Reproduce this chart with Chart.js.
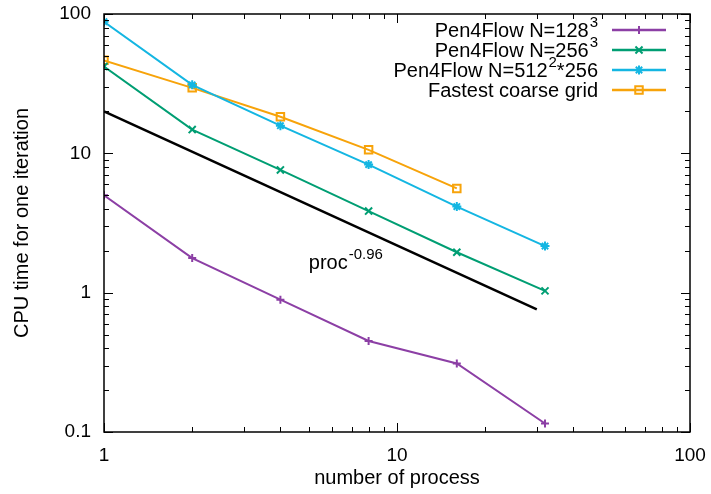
<!DOCTYPE html>
<html>
<head><meta charset="utf-8"><title>CPU time</title>
<script src="https://cdn.jsdelivr.net/npm/chart.js"></script>
<style> html,body{margin:0;padding:0;background:#fff;} #wrap{width:711px;height:494px;} </style>
</head>
<body>
<div id="wrap"><canvas id="c"></canvas></div>
<script>
// data
const procs   = [1, 2, 4, 8, 16, 32];
const n128    = [5.0, 1.77, 0.89, 0.45, 0.31, 0.115];
const n256    = [42, 14.8, 7.6, 3.85, 1.95, 1.03];
const n512    = [88, 31, 15.8, 8.3, 4.15, 2.16];
const coarseX = [1, 2, 4, 8, 16];
const coarse  = [46.5, 29.5, 18.3, 10.6, 5.6];
const fitX    = [1, 30];
const fitY    = [20, 0.76];
const xTicks  = [1, 10, 100];
const yTicks  = [0.1, 1, 10, 100];

const FONT = 'Liberation Sans, Arial, sans-serif';
const pts = (xs, ys) => xs.map((x, i) => ({x: x, y: ys[i]}));

const series = [
  {label: 'Pen4Flow N=128', sup: '3', tail: '', color: '#8c3fa5', style: 'cross', r: 4, data: pts(procs, n128)},
  {label: 'Pen4Flow N=256', sup: '3', tail: '', color: '#009e73', style: 'crossRot', r: 5, data: pts(procs, n256)},
  {label: 'Pen4Flow N=512', sup: '2', tail: '*256', color: '#14b6e2', style: 'star', r: 4.5, data: pts(procs, n512)},
  {label: 'Fastest coarse grid', sup: '', tail: '', color: '#f7a30a', style: 'rect', r: 5.3, data: pts(coarseX, coarse)}
];

const datasets = series.map(s => ({
  label: s.label, data: s.data, borderColor: s.color, borderWidth: 2,
  pointStyle: s.style, pointRadius: s.r, pointBorderColor: s.color, pointBorderWidth: 2,
  pointBackgroundColor: 'rgba(0,0,0,0)', fill: false, tension: 0
}));
datasets.push({label: 'fit', data: pts(fitX, fitY), borderColor: '#000', borderWidth: 2.5, pointRadius: 0, fill: false});

// gnuplot style frame with inner ticks on all sides
const frame = {
  id: 'frame',
  afterDatasetsDraw(chart) {
    const {ctx, chartArea: a, scales: {x, y}} = chart;
    ctx.save();
    ctx.strokeStyle = '#000';
    ctx.lineWidth = 1.5;
    ctx.strokeRect(a.left, a.top, a.right - a.left, a.bottom - a.top);
    ctx.lineWidth = 1;
    ctx.beginPath();
    for (let d = 0.1; d <= 100; d *= 10) {
      for (let m = 1; m < 10; m++) {
        const v = d * m;
        const len = m === 1 ? 9 : 5;
        if (v >= 1 && v <= 100) {
          const px = Math.round(x.getPixelForValue(v)) + 0.5;
          ctx.moveTo(px, a.bottom); ctx.lineTo(px, a.bottom - len);
          ctx.moveTo(px, a.top); ctx.lineTo(px, a.top + len);
        }
        if (v >= 0.1 && v <= 100) {
          const py = Math.round(y.getPixelForValue(v)) + 0.5;
          ctx.moveTo(a.left, py); ctx.lineTo(a.left + len, py);
          ctx.moveTo(a.right, py); ctx.lineTo(a.right - len, py);
        }
      }
    }
    ctx.stroke();

    // fit label proc^-0.96
    ctx.fillStyle = '#000';
    ctx.textBaseline = 'alphabetic';
    ctx.textAlign = 'left';
    ctx.font = '20px ' + FONT;
    const lx = x.getPixelForValue(5), ly = y.getPixelForValue(1.47);
    ctx.fillText('proc', lx, ly);
    const w = ctx.measureText('proc').width;
    ctx.font = '15px ' + FONT;
    ctx.fillText('-0.96', lx + w + 1, ly - 10);

    // legend
    const right = 598, x0 = 612, x1 = 666;
    series.forEach((s, i) => {
      const yy = 30 + i * 20;
      ctx.font = '20px ' + FONT;
      const wm = ctx.measureText(s.label).width;
      const wt = ctx.measureText(s.tail).width;
      ctx.font = '15px ' + FONT;
      const ws = s.sup ? ctx.measureText(s.sup).width + 1 : 0;
      let tx = right - wm - ws - wt;
      ctx.font = '20px ' + FONT;
      ctx.fillStyle = '#000';
      ctx.fillText(s.label, tx, yy + 7);
      if (s.sup) {
        ctx.font = '15px ' + FONT;
        ctx.fillText(s.sup, tx + wm + 1, yy - 3);
      }
      if (s.tail) {
        ctx.font = '20px ' + FONT;
        ctx.fillText(s.tail, tx + wm + ws, yy + 7);
      }
      ctx.strokeStyle = s.color;
      ctx.lineWidth = 2.5;
      ctx.beginPath(); ctx.moveTo(x0, yy); ctx.lineTo(x1, yy); ctx.stroke();
      ctx.lineWidth = 2;
      ctx.fillStyle = 'rgba(0,0,0,0)';
      Chart.helpers.drawPoint(ctx, {pointStyle: s.style, radius: s.r, rotation: 0, borderWidth: 2}, (x0 + x1) / 2, yy);
    });
    ctx.restore();
  }
};

new Chart(document.getElementById('c'), {
  type: 'line',
  data: {datasets: datasets},
  options: {
    responsive: true, maintainAspectRatio: false, animation: false,
    layout: {padding: {top: 14, right: 21, left: 0, bottom: 0}},
    plugins: {legend: {display: false}, tooltip: {enabled: false}},
    scales: {
      x: {
        type: 'logarithmic', min: 1, max: 100,
        grid: {display: false, drawTicks: false}, border: {display: false},
        afterBuildTicks: s => { s.ticks = xTicks.map(v => ({value: v})); },
        afterFit: s => { s.height = 62; s.paddingLeft = 0; s.paddingRight = 0; },
        ticks: {color: '#000', padding: 12, font: {family: FONT, size: 19}, maxRotation: 0,
                callback: v => String(v)},
        title: {display: true, text: 'number of process', color: '#000',
                font: {family: FONT, size: 20}, padding: {top: 0, bottom: 4}}
      },
      y: {
        type: 'logarithmic', min: 0.1, max: 100,
        grid: {display: false, drawTicks: false}, border: {display: false},
        afterBuildTicks: s => { s.ticks = yTicks.map(v => ({value: v})); },
        afterFit: s => { s.width = 104; s.paddingTop = 0; s.paddingBottom = 0; },
        ticks: {color: '#000', padding: 13, font: {family: FONT, size: 19},
                callback: v => String(v)},
        title: {display: true, text: 'CPU time for one iteration', color: '#000',
                font: {family: FONT, size: 20}, padding: {top: 10, bottom: 0}}
      }
    }
  },
  plugins: [frame]
});
</script>
</body>
</html>
